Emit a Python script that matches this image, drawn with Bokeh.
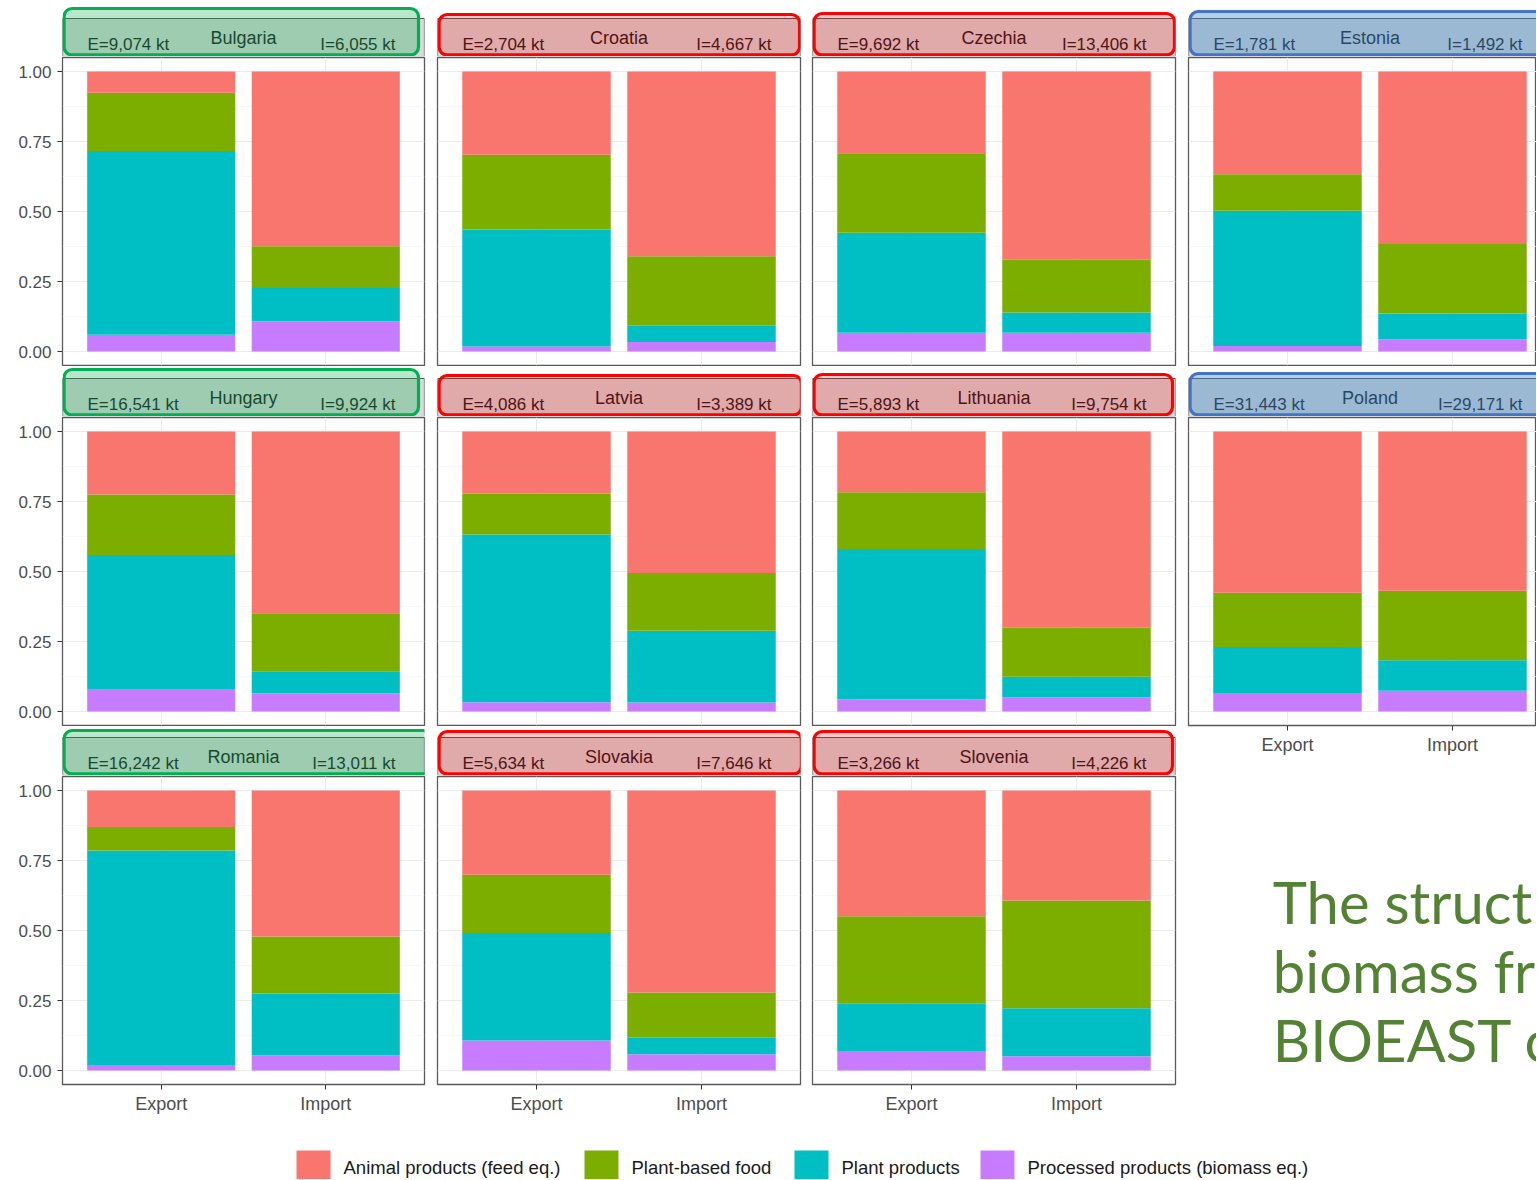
from bokeh.plotting import figure
from bokeh.layouts import row, column
from bokeh.models import Range1d, FixedTicker, Grid, LinearAxis, NumeralTickFormatter
from bokeh.core.properties import value
from bokeh.embed import file_html
from bokeh.resources import INLINE

# ---------------- data ----------------
countries = ["Bulgaria", "Croatia", "Czechia", "Estonia",
             "Hungary", "Latvia", "Lithuania", "Poland",
             "Romania", "Slovakia", "Slovenia"]
flows = ["Export", "Import"]
category_labels = ["Animal products (feed eq.)", "Plant-based food",
                   "Plant products", "Processed products (biomass eq.)"]
export_kt = ["9,074", "2,704", "9,692", "1,781", "16,541", "4,086",
             "5,893", "31,443", "16,242", "5,634", "3,266"]
import_kt = ["6,055", "4,667", "13,406", "1,492", "9,924", "3,389",
             "9,754", "29,171", "13,011", "7,646", "4,226"]

# shares of each category (stack order bottom -> top: processed, plant products, plant-based food, animal)
processed_export      = [0.060, 0.018, 0.067, 0.020, 0.080, 0.033, 0.044, 0.063, 0.017, 0.107, 0.067]
plant_products_export = [0.656, 0.418, 0.357, 0.483, 0.479, 0.599, 0.536, 0.167, 0.769, 0.384, 0.173]
plant_food_export     = [0.208, 0.267, 0.284, 0.130, 0.216, 0.146, 0.203, 0.194, 0.084, 0.208, 0.311]
animal_export         = [0.076, 0.297, 0.292, 0.367, 0.225, 0.222, 0.217, 0.576, 0.130, 0.301, 0.449]

processed_import      = [0.107, 0.034, 0.067, 0.044, 0.064, 0.032, 0.051, 0.074, 0.054, 0.058, 0.051]
plant_products_import = [0.120, 0.058, 0.072, 0.092, 0.080, 0.256, 0.073, 0.109, 0.221, 0.059, 0.171]
plant_food_import     = [0.149, 0.248, 0.189, 0.248, 0.207, 0.207, 0.175, 0.248, 0.204, 0.162, 0.385]
animal_import         = [0.624, 0.660, 0.672, 0.616, 0.649, 0.505, 0.701, 0.569, 0.521, 0.721, 0.393]

highlight = ["green", "red", "red", "blue", "green", "red", "red", "blue", "green", "red", "red"]

y_ticks = [0.0, 0.25, 0.5, 0.75, 1.0]
y_minor = [0.125, 0.375, 0.625, 0.875]
title_lines = ["The struct", "biomass fr", "BIOEAST c"]

# ---------------- styles ----------------
FONT = "Liberation Sans"
CAT_COLORS = ["#F8766D", "#7CAE00", "#00BFC4", "#C77CFF"]  # in category_labels order
HL_LINE = {"green": "#00B050", "red": "#FF0000", "blue": "#4472C4"}
HL_FILL = {"green": "#14B157", "red": "#F90003", "blue": "#3E89CA"}
HL_ALPHA = {"green": 0.30, "red": 0.22, "blue": 0.40}

# ---------------- layout (page pixels) ----------------
COL_CELL = [(0, 430), (430, 806), (806, 1181), (1181, 1536)]
COL_FRAME = [(62, 424), (437, 800), (812, 1175), (1188, 1551)]
ROW_FRAME = [(57, 365), (417, 725), (776, 1084)]
STRIP_SPAN = [(0, 56), (366, 416), (726, 775)]
PANEL_SPAN = [(56, 366), (416, 726), (775, 1130)]
POLAND_SPAN = (416, 761)
TITLE_SPAN = (761, 1130)
LEGEND_SPAN = (1130, 1179)
BOXES = {
    "Bulgaria": (60, 8, 418, 55), "Croatia": (433, 14, 799, 58),
    "Czechia": (809, 13, 1174, 57), "Estonia": (1189, 11, 1560, 59),
    "Hungary": (60, 369, 418, 416), "Latvia": (436, 375, 801, 418),
    "Lithuania": (807, 374, 1172, 416), "Poland": (1189, 373, 1560, 418),
    "Romania": (60, 730, 431, 774), "Slovakia": (436, 731, 801, 774),
    "Slovenia": (807, 731, 1172, 775),
}
LEG_SQ = [(296, 330), (584, 618), (794, 828), (980, 1014)]
LEG_TX = [343, 631, 841, 1027]
TITLE_X = 1267
TITLE_Y = [901, 970, 1039]


def base_fig(w, h, xr, yr, **kw):
    p = figure(width=w, height=h, x_range=xr, y_range=yr,
               x_axis_location=None, y_axis_location=None,
               toolbar_location=None, output_backend="svg", **kw)
    p.xgrid.visible = False
    p.ygrid.visible = False
    p.background_fill_color = "white"
    p.border_fill_color = "white"
    return p


def make_panel(i):
    r, c = divmod(i, 4)
    cl, cr = COL_CELL[c]
    fl, fr = COL_FRAME[c]
    fr_vis = min(fr, cr)
    ft, fb = ROW_FRAME[r]
    pt, pb = PANEL_SPAN[r]
    is_poland = countries[i] == "Poland"
    if is_poland:
        pb = POLAND_SPAN[1]
    has_x = (r == 2) or is_poland
    ppu = (fr - fl) / 2.2
    p = base_fig(cr - cl, pb - pt,
                 Range1d(0.4, 0.4 + (fr_vis - fl) / ppu), Range1d(-0.05, 1.05),
                 min_border_left=fl - cl, min_border_right=cr - fr_vis,
                 min_border_top=ft - pt, min_border_bottom=pb - fb)
    p.outline_line_color = "#5A5A5A"
    p.outline_line_width = 1.3
    p.add_layout(Grid(dimension=1, ticker=FixedTicker(ticks=y_ticks, minor_ticks=y_minor),
                      grid_line_color="#EBEBEB", grid_line_width=1.1,
                      minor_grid_line_color="#F2F2F2", minor_grid_line_width=0.6))
    p.add_layout(Grid(dimension=0, ticker=FixedTicker(ticks=[1, 2]),
                      grid_line_color="#EBEBEB", grid_line_width=1.1))

    layers = [
        (processed_export[i], processed_import[i], CAT_COLORS[3]),
        (plant_products_export[i], plant_products_import[i], CAT_COLORS[2]),
        (plant_food_export[i], plant_food_import[i], CAT_COLORS[1]),
        (animal_export[i], animal_import[i], CAT_COLORS[0]),
    ]
    be, bi = 0.0, 0.0
    for ve, vi, col in layers:
        p.vbar(x=[1, 2], width=0.9, bottom=[be, bi], top=[be + ve, bi + vi],
               fill_color=col, line_color=None)
        be += ve
        bi += vi

    if c == 0:
        ax = LinearAxis(ticker=FixedTicker(ticks=y_ticks),
                        formatter=NumeralTickFormatter(format="0.00"))
        ax.axis_line_color = None
        ax.major_tick_line_color = "#333333"
        ax.major_tick_in = 0
        ax.major_tick_out = 5
        ax.minor_tick_line_color = None
        ax.major_label_standoff = 6
        ax.major_label_text_font = FONT
        ax.major_label_text_font_size = "17px"
        ax.major_label_text_color = "#4D4D4D"
        p.add_layout(ax, "left")
    if has_x:
        ax = LinearAxis(ticker=FixedTicker(ticks=[1, 2]),
                        major_label_overrides={1: flows[0], 2: flows[1]})
        ax.axis_line_color = None
        ax.major_tick_line_color = "#333333"
        ax.major_tick_in = 0
        ax.major_tick_out = 5
        ax.minor_tick_line_color = None
        ax.major_label_standoff = 4
        ax.major_label_text_font = FONT
        ax.major_label_text_font_size = "18px"
        ax.major_label_text_color = "#4D4D4D"
        p.add_layout(ax, "below")
    return p


def make_strip(i):
    r, c = divmod(i, 4)
    cl, cr = COL_CELL[c]
    fl, fr = COL_FRAME[c]
    fr_vis = min(fr, cr)
    st, sb = STRIP_SPAN[r]
    ft = ROW_FRAME[r][0]
    # frames in a column are aligned by Bokeh, so the strip uses the panel's frame edges
    p = base_fig(cr - cl, sb - st, Range1d(fl, fr_vis), Range1d(sb, st),
                 min_border_left=fl - cl, min_border_right=cr - fr_vis,
                 min_border_top=0, min_border_bottom=0)
    p.outline_line_color = None
    p.quad(left=[fl], right=[fr], top=[ft - 39], bottom=[ft + 2],
           fill_color="#D9D9D9", line_color="#555555", line_width=1.2)
    tc = "#1A1A1A"
    p.text(x=[(fl + fr) / 2], y=[ft - 20], text=[countries[i]], text_align="center",
           text_baseline="middle", text_font=value(FONT), text_font_size="18px", text_color=tc)
    p.text(x=[fl + 25], y=[ft - 13], text=["E=" + export_kt[i] + " kt"], text_align="left",
           text_baseline="middle", text_font=value(FONT), text_font_size="17px", text_color=tc)
    p.text(x=[fr - 29], y=[ft - 13], text=["I=" + import_kt[i] + " kt"], text_align="right",
           text_baseline="middle", text_font=value(FONT), text_font_size="17px", text_color=tc)
    bl, bt, br, bb = BOXES[countries[i]]
    bt = max(bt, st + 1.6)
    bb = min(bb, sb - 1.6)
    bl = max(bl, fl + 1.6)
    h = highlight[i]
    p.quad(left=[bl], right=[br], top=[bt], bottom=[bb],
           fill_color=HL_FILL[h], fill_alpha=HL_ALPHA[h],
           line_color=HL_LINE[h], line_width=3.2, border_radius=8)
    return p


def make_title():
    cl, cr = COL_CELL[3]
    t0, t1 = TITLE_SPAN
    p = base_fig(cr - cl, t1 - t0, Range1d(cl, cr), Range1d(t1, t0), min_border=0)
    p.outline_line_color = None
    p.text(x=[TITLE_X] * 3, y=TITLE_Y, text=title_lines,
           text_align="left", text_baseline="middle", text_font=value("Lato"),
           text_font_size="58px", text_color="#548235")
    return p


def make_legend():
    l0, l1 = LEGEND_SPAN
    x0, x1 = COL_CELL[0][0], COL_CELL[3][1]
    p = base_fig(x1 - x0, l1 - l0, Range1d(x0, x1), Range1d(l1, l0), min_border=0)
    p.outline_line_color = None
    for k, lab in enumerate(category_labels):
        a, b = LEG_SQ[k]
        p.quad(left=[a], right=[b], top=[1150], bottom=[1195],
               fill_color=CAT_COLORS[k], line_color=None)
        p.text(x=[LEG_TX[k]], y=[1167], text=[lab], text_align="left",
               text_baseline="middle", text_font=value(FONT), text_font_size="18.5px",
               text_color="#1A1A1A")
    return p


cols = []
for c in range(4):
    items = []
    for r in range(3):
        i = r * 4 + c
        if i >= len(countries):
            break
        items.append(make_strip(i))
        items.append(make_panel(i))
    if c == 3:
        items.append(make_title())
    cols.append(column(*items))

layout = column(row(*cols), make_legend())

open("out.html", "w").write(file_html(layout, INLINE))
